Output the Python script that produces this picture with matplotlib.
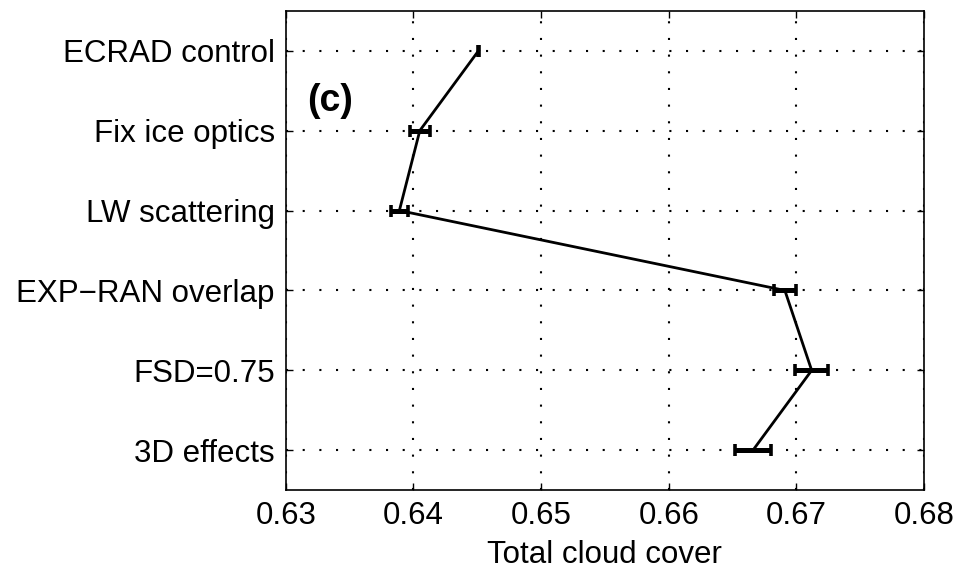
import matplotlib
matplotlib.use("Agg")
import matplotlib.pyplot as plt

plt.rcParams['font.family'] = ['Liberation Sans', 'DejaVu Sans']

experiments = ["ECRAD control", "Fix ice optics", "LW scattering",
               "EXP\u2212RAN overlap", "FSD=0.75", "3D effects"]
cloud_cover = [0.6451, 0.6405, 0.6389, 0.6691, 0.6712, 0.6666]
cloud_err = [0.00002, 0.00078, 0.00068, 0.00086, 0.00128, 0.00140]
xticks = [0.63, 0.64, 0.65, 0.66, 0.67, 0.68]

fig = plt.figure(figsize=(9.59, 5.68), dpi=100)
ax = fig.add_axes([0.298, 0.137, 0.6655, 0.844])

ypos = list(range(1, len(experiments) + 1))

ax.plot(cloud_cover, ypos, color='black', lw=2.0, zorder=3)
ax.errorbar(cloud_cover, ypos, xerr=cloud_err, fmt='none', ecolor='black',
            elinewidth=3.6, capsize=4.5, capthick=2.6, zorder=4)

ax.set_xlim(0.63, 0.68)
ax.set_ylim(6.5, 0.5)
ax.set_xticks(xticks)
ax.set_xticklabels([f"{v:.2f}" for v in xticks])
ax.set_yticks(ypos)
ax.set_yticklabels(experiments)

ax.grid(True, color='black', linestyle=(0, (1, 7)), linewidth=1.5)
ax.set_axisbelow(True)
ax.tick_params(direction='in', length=5, width=1, top=True, right=True,
               labelsize=22.5, pad=8)
for sp in ax.spines.values():
    sp.set_linewidth(1.2)

ax.set_xlabel("Total cloud cover", fontsize=22.5, labelpad=6)
ax.text(0.034, 0.812, "(c)", transform=ax.transAxes, fontsize=27,
        fontweight='bold', ha='left', va='center')

fig.savefig("out.png", dpi=100)
